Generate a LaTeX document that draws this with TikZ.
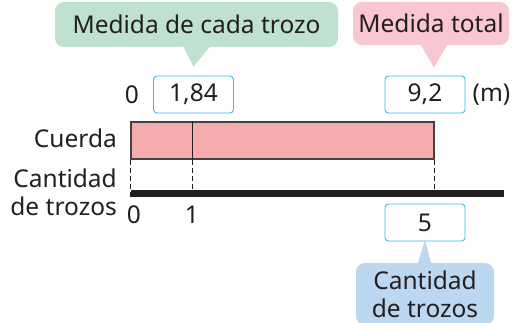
\documentclass[tikz,border=0pt]{standalone}
\usepackage{fontspec}
\setmainfont{Noto Sans}
\usetikzlibrary{positioning,calc}
\definecolor{inkC}{HTML}{231F20}
\definecolor{calloutG}{HTML}{BFE1D0}
\definecolor{calloutP}{HTML}{F9C7D1}
\definecolor{calloutB}{HTML}{BCD7F0}
\definecolor{ropeP}{HTML}{F6ABAF}
\definecolor{boxC}{HTML}{3DB9EC}
\tikzset{
  callout/.style={rounded corners=9pt, inner sep=0pt, align=center, text=inkC},
  valbox/.style={draw=boxC, line width=0.9pt, rounded corners=3.5pt, fill=white, minimum width=80pt, minimum height=37pt, inner sep=0pt, text=inkC},
  ropebar/.style={draw=inkC!85, line width=1.3pt, fill=ropeP, minimum width=303pt, minimum height=37pt, inner sep=0pt},
  guide/.style={dashed, dash pattern=on 5pt off 3pt, line width=0.7pt, inkC},
  lbl/.style={inner sep=0pt, text=inkC}
}

\begin{document}
\begin{tikzpicture}[x=1pt, y=-1pt, every node/.style={font=\fontsize{24.5}{28}\selectfont}]
  \useasboundingbox (0,0) rectangle (522,323);
  \clip (0,0) rectangle (522,323);
  % value boxes
  \node[valbox] (v1) at (193.5,94.5) {1,84};
  \node[valbox] (v2) at (425,94.5) {9,2};
  \node[valbox] (v5) at (425,222.5) {5};
  % callouts
  \node[callout, fill=calloutG, minimum width=283pt, minimum height=45pt] (cG) at (196.5,24.5) {Medida de cada trozo};
  \node[callout, fill=calloutP, minimum width=156pt, minimum height=43pt] (cP) at (431,23.5) {Medida total};
  \node[callout, fill=calloutB, minimum width=138pt, minimum height=62pt] (cB) at (425,294) {Cantidad\\de trozos};
  \fill[calloutG] ([xshift=-13pt]cG.south) -- ([xshift=13pt]cG.south) -- ([yshift=9pt]v1.north) -- cycle;
  \fill[calloutP] ([xshift=-10pt]cP.south) -- ([xshift=16pt]cP.south) -- ([xshift=9pt,yshift=8pt]v2.north) -- cycle;
  \fill[calloutB] ([xshift=-7pt]cB.north) -- ([xshift=6pt]cB.north) -- ([yshift=2pt]v5.south) -- cycle;
  % rope
  \node[ropebar] (rope) at (282.5,140.5) {};
  \coordinate (d1) at (192,0);
  \draw[inkC, line width=0.8pt] (rope.north -| d1) -- (rope.south -| d1);
  % number line
  \coordinate (nl0) at (131,193.5);
  \coordinate (nlE) at (504,193.5);
  \draw[inkC, line width=7pt] (nl0) -- (nlE);
  \draw[guide] (rope.south west) -- ++(0,39);
  \draw[guide] (rope.south -| d1) -- ++(0,39);
  \draw[guide] (rope.south east) -- ++(0,39);
  % labels
  \node[lbl] (z0) at (132,95) {0};
  \node[lbl, right=7pt of v2] (unit) {(m)};
  \node[lbl, anchor=east] (lc) at (117,138) {Cuerda};
  \node[lbl, anchor=east, align=right] (lt) at (117,192) {Cantidad\\de trozos};
  \node[lbl] (t0) at (134,215) {0};
  \node[lbl] (t1) at (192,215) {1};
\end{tikzpicture}
\end{document}
